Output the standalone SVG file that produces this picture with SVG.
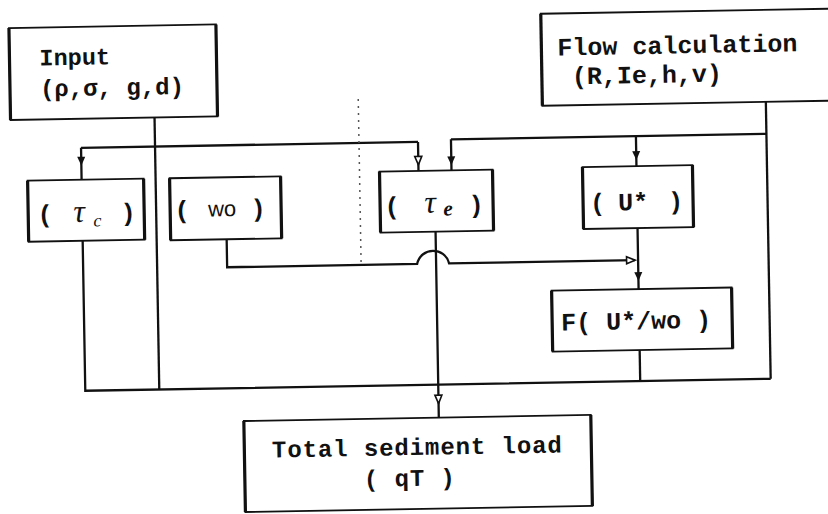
<svg xmlns="http://www.w3.org/2000/svg" width="828" height="514" viewBox="0 0 828 514">
<style>
.bx{fill:none;stroke:#111;stroke-width:1.8}
.ed{fill:none;stroke:#111;stroke-width:3.2}
.cn{fill:none;stroke:#111;stroke-width:2.3}
.t{font-family:"Liberation Mono","DejaVu Sans Mono",monospace;font-weight:bold;fill:#111}
.g{font-family:"Liberation Serif","DejaVu Serif",serif;font-style:italic;fill:#111}
.s{font-family:"Liberation Sans","DejaVu Sans",sans-serif;fill:#111}
</style>
<defs>
<marker id="af" markerUnits="userSpaceOnUse" markerWidth="12" markerHeight="12" refX="10" refY="5" orient="auto">
<path d="M1,1 L10,5 L1,9 Z" fill="#111"/>
</marker>
<marker id="ao" markerUnits="userSpaceOnUse" markerWidth="12" markerHeight="12" refX="10" refY="5" orient="auto">
<path d="M1.5,1.5 L10,5 L1.5,8.5 Z" fill="#fff" stroke="#111" stroke-width="1.6"/>
</marker>
</defs>
<rect width="828" height="514" fill="#fff"/>
<g transform="rotate(-1 414 257)">
<g id="connectors">
<path class="cn" d="M157,113 V385"/>
<path class="cn" d="M83,142 H420"/>
<path class="cn" d="M83,142 V160 V174" marker-mid="url(#af)"/>
<path class="cn" d="M420,142 V165 V171" marker-mid="url(#ao)"/>
<path class="cn" d="M453,140 H768.5"/>
<path class="cn" d="M453,140 V166 V171" marker-mid="url(#af)"/>
<path class="cn" d="M638,140 V164 V170" marker-mid="url(#af)"/>
<path class="cn" d="M768.5,108 V385"/>
<path class="cn" d="M638,232 V285 V293" marker-mid="url(#af)"/>
<path class="cn" d="M227,236 V264 H417 C421,247 445,247 449,264 H635" marker-end="url(#ao)"/>
<path class="cn" d="M436,232 V404 V418" marker-mid="url(#ao)"/>
<path class="cn" d="M83,235 V385 H768.5"/>
<path class="cn" d="M638,354 V385"/>
<path d="M361,98 V262" fill="none" stroke="#555" stroke-width="1.5" stroke-dasharray="2 5"/>
</g>
<g id="input">
<rect class="bx" x="13" y="21" width="207" height="92"/>
<path class="ed" d="M13,21 V113 M220,21 V113"/>
<text class="t" x="43" y="59" font-size="23.5">Input</text>
<text class="t" x="43" y="90" font-size="24">(ρ,σ, g,d)</text>
</g>
<g id="flow">
<rect class="bx" x="545" y="16" width="300" height="92"/>
<path class="ed" d="M545,16 V108"/>
<text class="t" x="561" y="58" font-size="25">Flow calculation</text>
<text class="t" x="575" y="87" font-size="25">(R,Ie,h,v)</text>
</g>
<g id="tauc">
<rect class="bx" x="29" y="174" width="116" height="61"/>
<path class="ed" d="M29,174 V235 M145,174 V235"/>
<text class="t" font-size="25" text-anchor="middle" y="216"><tspan x="46">(</tspan><tspan x="129">)</tspan></text>
<text class="g" font-size="32" text-anchor="middle" x="80" y="216">τ</text>
<text class="g" font-size="18" text-anchor="middle" x="98" y="221">c</text>
</g>
<g id="wo">
<rect class="bx" x="171" y="174" width="111" height="62"/>
<path class="ed" d="M171,174 V236 M282,174 V236"/>
<text class="t" font-size="25" text-anchor="middle" y="214"><tspan x="183">(</tspan><tspan x="259">)</tspan></text>
<text class="s" font-size="22" text-anchor="middle" x="223" y="213">wo</text>
</g>
<g id="taue">
<rect class="bx" x="381" y="171" width="113" height="61"/>
<path class="ed" d="M381,171 V232 M494,171 V232"/>
<text class="t" font-size="25" text-anchor="middle" y="214"><tspan x="393">(</tspan><tspan x="477">)</tspan></text>
<text class="g" font-size="32" text-anchor="middle" x="431" y="213">τ</text>
<text class="g" font-size="21" font-weight="bold" text-anchor="middle" x="449" y="216">e</text>
</g>
<g id="ustar">
<rect class="bx" x="584" y="170" width="110" height="62"/>
<path class="ed" d="M584,170 V232 M694,170 V232"/>
<text class="t" font-size="25" y="214"><tspan x="591">(</tspan><tspan x="619">U*</tspan><tspan x="669">)</tspan></text>
</g>
<g id="fbox">
<rect class="bx" x="551" y="293" width="180" height="61"/>
<path class="ed" d="M551,293 V354 M731,293 V354"/>
<text class="t" x="560" y="333" font-size="25">F( U*/wo )</text>
</g>
<g id="total">
<rect class="bx" x="241" y="418" width="347" height="91"/>
<path class="ed" d="M241,418 V509 M588,418 V509"/>
<text class="t" x="414" y="455" font-size="24" letter-spacing="0.9" text-anchor="middle">Total sediment load</text>
<text class="t" x="406" y="486" font-size="24" letter-spacing="0.9" text-anchor="middle">( qT )</text>
</g>
</g>
</svg>
